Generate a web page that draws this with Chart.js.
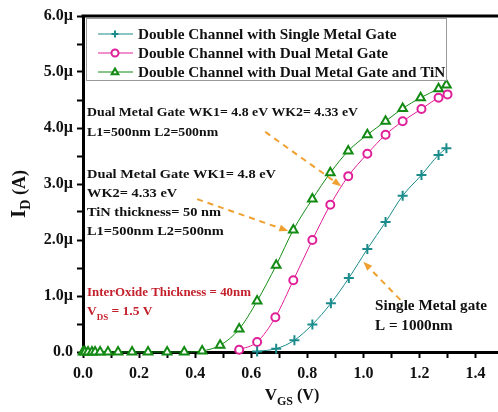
<!DOCTYPE html>
<html>
<head>
<meta charset="utf-8">
<script src="https://cdn.jsdelivr.net/npm/chart.js@4.4.0/dist/chart.umd.min.js"></script>
<style>
  html, body { margin: 0; padding: 0; background: #fff; }
  #wrap { width: 498px; height: 412px; }
</style>
</head>
<body>
<div id="wrap"><canvas id="idChart"></canvas></div>
<script>
/* ------------------------------- */
/* DATA (V_GS in V, I_D in uA)     */
/* ------------------------------- */
const seriesNames = [
  "Double Channel with Single Metal Gate",
  "Double Channel with Dual Metal Gate",
  "Double Channel with Dual Metal Gate and TiN",
];

const singleVgs = [0.621, 0.689, 0.754, 0.818, 0.884, 0.948, 1.014, 1.079, 1.14, 1.207, 1.268, 1.296];
const singleId  = [0.01, 0.06, 0.21, 0.49, 0.87, 1.32, 1.84, 2.32, 2.79, 3.16, 3.52, 3.64];

const dualVgs = [0.557, 0.621, 0.686, 0.75, 0.818, 0.882, 0.946, 1.014, 1.079, 1.14, 1.207, 1.268, 1.3];
const dualId  = [0.04, 0.18, 0.62, 1.28, 2.0, 2.63, 3.14, 3.54, 3.88, 4.12, 4.34, 4.54, 4.6];

const tinVgs = [0, 0.007, 0.018, 0.032, 0.043, 0.061, 0.089, 0.125, 0.175, 0.232, 0.3, 0.361, 0.425,
                0.489, 0.557, 0.621, 0.689, 0.75, 0.818, 0.882, 0.946, 1.014, 1.079, 1.14, 1.204, 1.268, 1.296];
const tinId  = [0, 0, 0, 0, 0, 0, 0, 0, 0, 0, 0, 0, 0.02,
                0.12, 0.41, 0.91, 1.55, 2.18, 2.73, 3.2, 3.59, 3.88, 4.12, 4.35, 4.54, 4.7, 4.77];

// arrows: [fromX, fromY, toX, toY] in data units
const arrows = [
  [0.65, 3.93, 0.921, 2.96],
  [0.407, 2.73, 0.732, 2.16],
  [1.132, 0.93, 1.0, 1.61],
];

const noteDual = ["Dual Metal Gate WK1= 4.8 eV WK2= 4.33 eV", "L1=500nm L2=500nm"];
const noteTin = ["Dual Metal Gate WK1= 4.8 eV", "WK2= 4.33 eV", "TiN thickness= 50 nm", "L1=500nm L2=500nm"];
const noteSingle = ["Single Metal gate", "L = 1000nm"];
const noteOxide = "InterOxide Thickness = 40nm";

const colTeal = "#1b8b8b";
const colPink = "#e0209a";
const colGreen = "#138a13";
const colArrow = "#f0a030";
const FONT = "'Liberation Serif', 'Times New Roman', serif";

function pts(xs, ys) {
  return xs.map((x, i) => ({ x: x, y: ys[i] }));
}

/* ------------------------------- */
/* OVERLAY: frame, notes, legend   */
/* ------------------------------- */
function drawArrow(ctx, x1, y1, x2, y2) {
  const ang = Math.atan2(y2 - y1, x2 - x1);
  const head = 9;
  const bx = x2 - Math.cos(ang) * head;
  const by = y2 - Math.sin(ang) * head;
  ctx.strokeStyle = colArrow;
  ctx.fillStyle = colArrow;
  ctx.lineWidth = 2;
  ctx.setLineDash([6, 5]);
  ctx.beginPath();
  ctx.moveTo(x1, y1);
  ctx.lineTo(bx, by);
  ctx.stroke();
  ctx.setLineDash([]);
  ctx.beginPath();
  ctx.moveTo(x2, y2);
  ctx.lineTo(bx + Math.sin(ang) * 3.5, by - Math.cos(ang) * 3.5);
  ctx.lineTo(bx - Math.sin(ang) * 3.5, by + Math.cos(ang) * 3.5);
  ctx.closePath();
  ctx.fill();
}

function drawMarker(ctx, style, color, x, y, r) {
  ctx.strokeStyle = color;
  ctx.fillStyle = "#fff";
  ctx.lineWidth = 2;
  ctx.beginPath();
  if (style === "cross") {
    ctx.moveTo(x - r, y); ctx.lineTo(x + r, y);
    ctx.moveTo(x, y - r); ctx.lineTo(x, y + r);
    ctx.stroke();
  } else if (style === "circle") {
    ctx.arc(x, y, r, 0, Math.PI * 2);
    ctx.fill(); ctx.stroke();
  } else {
    ctx.moveTo(x, y - r);
    ctx.lineTo(x + r * 0.95, y + r * 0.65);
    ctx.lineTo(x - r * 0.95, y + r * 0.65);
    ctx.closePath();
    ctx.fill(); ctx.stroke();
  }
}

// draw text stretched horizontally by sx
function wideText(ctx, text, x, y, sx) {
  ctx.save();
  ctx.translate(x, y);
  ctx.scale(sx, 1);
  ctx.fillText(text, 0, 0);
  ctx.restore();
}

// horizontal stretch so that `text` measures `width` px
function fitScale(ctx, text, width) {
  return width / ctx.measureText(text).width;
}

const overlay = {
  id: "overlay",
  afterDraw(chart) {
    const ctx = chart.ctx;
    const a = chart.chartArea;
    const xs = chart.scales.x;
    const ys = chart.scales.y;
    ctx.save();

    // top frame line
    ctx.strokeStyle = "#000";
    ctx.lineWidth = 3;
    ctx.beginPath();
    ctx.moveTo(a.left - 1.5, a.top);
    ctx.lineTo(a.right, a.top);
    ctx.stroke();

    arrows.forEach(ar => drawArrow(ctx,
      xs.getPixelForValue(ar[0]), ys.getPixelForValue(ar[1]),
      xs.getPixelForValue(ar[2]), ys.getPixelForValue(ar[3])));

    // notes
    const nx = a.left + 4;
    ctx.textBaseline = "middle";
    ctx.textAlign = "left";
    ctx.fillStyle = "#111";
    ctx.font = "bold 12.5px " + FONT;
    let s = fitScale(ctx, noteDual[0], 271);
    noteDual.forEach((t, i) => wideText(ctx, t, nx, 113 + i * 20, s));
    s = fitScale(ctx, noteTin[0], 189);
    noteTin.forEach((t, i) => wideText(ctx, t, nx, 175 + i * 19, s));
    ctx.font = "bold 14.5px " + FONT;
    s = fitScale(ctx, noteSingle[0], 112);
    noteSingle.forEach((t, i) => wideText(ctx, t, 375, 306 + i * 20, s));

    ctx.fillStyle = "#c4202c";
    ctx.font = "bold 11.5px " + FONT;
    s = fitScale(ctx, noteOxide, 164);
    wideText(ctx, noteOxide, nx, 293, s);
    ctx.font = "bold 12px " + FONT;
    wideText(ctx, "V", nx, 312, s);
    const w = ctx.measureText("V").width * s;
    ctx.font = "bold 8px " + FONT;
    wideText(ctx, "DS", nx + w, 318, s);
    const w2 = ctx.measureText("DS").width * s;
    ctx.font = "bold 12px " + FONT;
    wideText(ctx, " = 1.5 V", nx + w + w2, 312, s);

    // legend
    const lx = 86, ly = 18, lw = 360, lh = 62;
    ctx.fillStyle = "#fff";
    ctx.fillRect(lx, ly, lw, lh);
    const styles = ["cross", "circle", "triangle"];
    const cols = [colTeal, colPink, colGreen];
    ctx.font = "bold 14px " + FONT;
    s = fitScale(ctx, seriesNames[1], 250);
    ctx.save();
    ctx.beginPath();
    ctx.rect(lx, ly, lw, lh);
    ctx.clip();
    seriesNames.forEach((name, i) => {
      const y = 34 + i * 19;
      ctx.strokeStyle = cols[i];
      ctx.lineWidth = 1;
      ctx.beginPath();
      ctx.moveTo(98, y);
      ctx.lineTo(133, y);
      ctx.stroke();
      drawMarker(ctx, styles[i], cols[i], 115, y, 3.5);
      ctx.fillStyle = "#111";
      wideText(ctx, name, 138, y + 1, s);
    });
    ctx.restore();
    ctx.strokeStyle = "#999";
    ctx.lineWidth = 1;
    ctx.strokeRect(lx + 0.5, ly + 0.5, lw, lh);

    // y axis title
    ctx.fillStyle = "#111";
    ctx.save();
    ctx.translate(25, 194);
    ctx.rotate(-Math.PI / 2);
    ctx.textBaseline = "alphabetic";
    ctx.font = "bold 21px " + FONT;
    const wI = ctx.measureText("I").width;
    ctx.font = "bold 14px " + FONT;
    const wD = ctx.measureText("D").width;
    ctx.font = "bold 18px " + FONT;
    const wA = ctx.measureText(" (A)").width;
    let sx = -(wI + wD + wA) / 2;
    ctx.font = "bold 21px " + FONT;
    ctx.fillText("I", sx, 0);
    ctx.font = "bold 14px " + FONT;
    ctx.fillText("D", sx + wI, 5);
    ctx.font = "bold 18px " + FONT;
    ctx.fillText(" (A)", sx + wI + wD, 0);
    ctx.restore();

    // x axis title
    ctx.textBaseline = "alphabetic";
    ctx.font = "bold 17px " + FONT;
    const wV = ctx.measureText("V").width;
    ctx.font = "bold 12px " + FONT;
    const wG = ctx.measureText("GS").width;
    ctx.font = "bold 16px " + FONT;
    const wP = ctx.measureText(" (V)").width;
    sx = 292 - (wV + wG + wP) / 2;
    ctx.font = "bold 17px " + FONT;
    ctx.fillText("V", sx, 400);
    ctx.font = "bold 12px " + FONT;
    ctx.fillText("GS", sx + wV, 405);
    ctx.font = "bold 16px " + FONT;
    ctx.fillText(" (V)", sx + wV + wG, 400);

    ctx.restore();
  },
};

/* ------------------------------- */
/* CHART                           */
/* ------------------------------- */
Chart.defaults.font.family = FONT;
Chart.defaults.font.weight = "bold";
Chart.defaults.color = "#111";

new Chart(document.getElementById("idChart"), {
  type: "line",
  data: {
    datasets: [
      {
        label: seriesNames[0],
        data: pts(singleVgs, singleId),
        borderColor: colTeal,
        borderWidth: 1,
        pointStyle: "cross",
        pointRadius: 5,
        pointBorderWidth: 2,
        pointBorderColor: colTeal,
        cubicInterpolationMode: "monotone",
        clip: false,
      },
      {
        label: seriesNames[1],
        data: pts(dualVgs, dualId),
        borderColor: colPink,
        borderWidth: 1,
        pointStyle: "circle",
        pointRadius: 4,
        pointBorderWidth: 2,
        pointBackgroundColor: "#fff",
        pointBorderColor: colPink,
        cubicInterpolationMode: "monotone",
        clip: false,
      },
      {
        label: seriesNames[2],
        data: pts(tinVgs, tinId),
        borderColor: colGreen,
        borderWidth: 1,
        pointStyle: "triangle",
        pointRadius: 5,
        pointBorderWidth: 2,
        pointBackgroundColor: "#fff",
        pointBorderColor: colGreen,
        cubicInterpolationMode: "monotone",
        clip: false,
      },
    ],
  },
  options: {
    responsive: true,
    maintainAspectRatio: false,
    animation: false,
    layout: { autoPadding: false, padding: { top: 16, right: 0, left: 0, bottom: 0 } },
    plugins: {
      legend: { display: false },
      tooltip: { enabled: false },
    },
    scales: {
      x: {
        type: "linear",
        min: 0,
        max: 1.48,
        afterFit(scale) {
          scale.height = 60;
          scale.paddingLeft = 0;
          scale.paddingRight = 0;
        },
        border: { display: true, width: 3, color: "#000" },
        grid: { drawOnChartArea: false, tickLength: 6, tickWidth: 2, tickColor: "#000" },
        ticks: {
          stepSize: 0.1,
          includeBounds: false,
          autoSkip: false,
          maxRotation: 0,
          padding: 6,
          font: { size: 16, weight: "bold" },
          callback: v => (Math.round(v * 10) % 2 === 0 ? v.toFixed(1) : ""),
        },
      },
      y: {
        min: 0,
        max: 6,
        afterFit(scale) { scale.width = 83; },
        border: { display: true, width: 3, color: "#000" },
        grid: { drawOnChartArea: false, tickLength: 6, tickWidth: 2, tickColor: "#000" },
        ticks: {
          stepSize: 0.5,
          autoSkip: false,
          padding: 4,
          font: { size: 16, weight: "bold" },
          callback: v => (Math.round(v * 2) % 2 === 0 ? (v === 0 ? "0.0" : v.toFixed(1) + "\u00b5") : ""),
        },
      },
    },
  },
  plugins: [overlay],
});
</script>
</body>
</html>
